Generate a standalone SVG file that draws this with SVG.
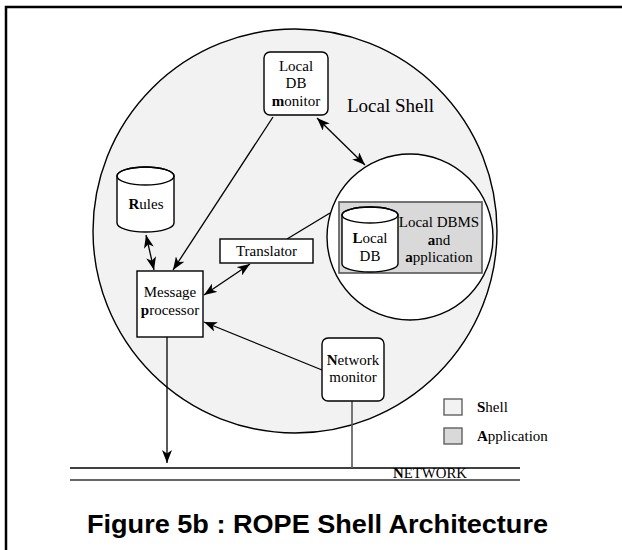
<svg xmlns="http://www.w3.org/2000/svg" width="622" height="550" viewBox="0 0 622 550">
  <style>
    .lbl { font-family: "Liberation Serif", "Times New Roman", serif; font-size: 15px; fill: #000; text-anchor: middle; }
    .lft { text-anchor: start; }
    .b { font-weight: bold; }
    .edge { stroke: #000; stroke-width: 1.3; fill: none; }
    .box { fill: #fff; stroke: #000; stroke-width: 1.4; }
    .title { font-family: "Liberation Sans", Arial, sans-serif; font-size: 26px; font-weight: bold; fill: #000; }
  </style>
  <defs>
    <marker id="arrow" viewBox="0 0 13 10" refX="13" refY="5" markerWidth="13" markerHeight="10" markerUnits="userSpaceOnUse" orient="auto-start-reverse">
      <path d="M0,0 L13,5 L0,10 L3.5,5 z" fill="#000"/>
    </marker>
  </defs>

  <rect width="622" height="550" fill="#fff"/>
  <!-- frame -->
  <path d="M6,550 V7 H622" fill="none" stroke="#000" stroke-width="2.5"/>

  <!-- shell region -->
  <g id="local-shell">
    <circle cx="295" cy="231" r="202" fill="#f2f2f2" stroke="#000" stroke-width="1.4"/>
    <text class="lbl lft" x="347" y="112" style="font-size:19px">Local Shell</text>
  </g>

  <!-- network bus -->
  <g id="network">
    <line x1="70" y1="468" x2="520" y2="468" stroke="#000" stroke-width="1.4"/>
    <line x1="70" y1="480" x2="520" y2="480" stroke="#333" stroke-width="1.4"/>
    <text class="lbl" x="430" y="478" style="font-size:14px" textLength="74" lengthAdjust="spacingAndGlyphs"><tspan class="b">N</tspan>ETWORK</text>
  </g>

  <!-- connectors -->
  <g id="connectors">
    <line class="edge" x1="146" y1="235" x2="154" y2="270" marker-start="url(#arrow)" marker-end="url(#arrow)"/>
    <line class="edge" x1="273" y1="117" x2="173" y2="270" marker-end="url(#arrow)"/>
    <line class="edge" x1="250" y1="264" x2="204" y2="295" marker-start="url(#arrow)" marker-end="url(#arrow)"/>
    <line class="edge" x1="287" y1="239" x2="330" y2="213"/>
    <line class="edge" x1="322" y1="370" x2="204" y2="322" marker-end="url(#arrow)"/>
    <line class="edge" x1="317" y1="118" x2="365" y2="165" marker-start="url(#arrow)" marker-end="url(#arrow)"/>
    <line class="edge" x1="167" y1="337" x2="167" y2="463" marker-end="url(#arrow)"/>
    <line x1="352" y1="401" x2="352" y2="468" stroke="#555" stroke-width="1.6"/>
  </g>

  <g id="local-db-monitor">
    <rect class="box" x="264" y="52" width="64" height="63" rx="6"/>
    <text class="lbl" x="296" y="71">Local</text>
    <text class="lbl" x="296" y="88">DB</text>
    <text class="lbl" x="296" y="106"><tspan class="b">m</tspan>onitor</text>
  </g>

  <g id="application">
    <circle cx="410" cy="237" r="83" fill="#fff" stroke="#000" stroke-width="1.4"/>
    <rect x="339" y="202" width="143" height="71" fill="#d9d9d9" stroke="#555" stroke-width="1.6"/>
    <text class="lbl" x="439" y="227">Local DBMS</text>
    <text class="lbl" x="439" y="245"><tspan class="b">a</tspan>nd</text>
    <text class="lbl" x="439" y="262"><tspan class="b">a</tspan>pplication</text>
  </g>

  <g id="local-db">
    <path class="box" d="M342,215 V264 A28,8 0 0 0 398,264 V215 A28,8 0 0 0 342,215 Z"/>
    <ellipse cx="370" cy="215" rx="28" ry="8" fill="none" stroke="#000" stroke-width="1.4"/>
    <text class="lbl" x="370" y="243"><tspan class="b">L</tspan>ocal</text>
    <text class="lbl" x="370" y="261">DB</text>
  </g>

  <g id="rules">
    <path class="box" d="M117,176 V223 A28.5,9 0 0 0 174,223 V176 A28.5,9 0 0 0 117,176 Z"/>
    <ellipse cx="145.5" cy="176" rx="28.5" ry="9" fill="none" stroke="#000" stroke-width="1.4"/>
    <text class="lbl" x="146" y="209"><tspan class="b">R</tspan>ules</text>
  </g>

  <g id="message-processor">
    <rect class="box" x="137" y="271" width="66" height="66"/>
    <text class="lbl" x="170" y="297">Message</text>
    <text class="lbl" x="170" y="315"><tspan class="b">p</tspan>rocessor</text>
  </g>

  <g id="translator">
    <rect class="box" x="220" y="239" width="93" height="24"/>
    <text class="lbl" x="266.5" y="256">Translator</text>
  </g>

  <g id="network-monitor">
    <rect class="box" x="322" y="338" width="62" height="63" rx="6"/>
    <text class="lbl" x="353" y="365"><tspan class="b">N</tspan>etwork</text>
    <text class="lbl" x="353" y="382">monitor</text>
  </g>

  <g id="legend">
    <rect x="444" y="399" width="18" height="16" fill="#f2f2f2" stroke="#555" stroke-width="1.3"/>
    <text class="lbl lft" x="477" y="412"><tspan class="b">S</tspan>hell</text>
    <rect x="444" y="428" width="18" height="16" fill="#d9d9d9" stroke="#555" stroke-width="1.3"/>
    <text class="lbl lft" x="477" y="441"><tspan class="b">A</tspan>pplication</text>
  </g>

  <text class="title" x="87" y="533" textLength="461" lengthAdjust="spacingAndGlyphs">Figure 5b : ROPE Shell Architecture</text>
</svg>
